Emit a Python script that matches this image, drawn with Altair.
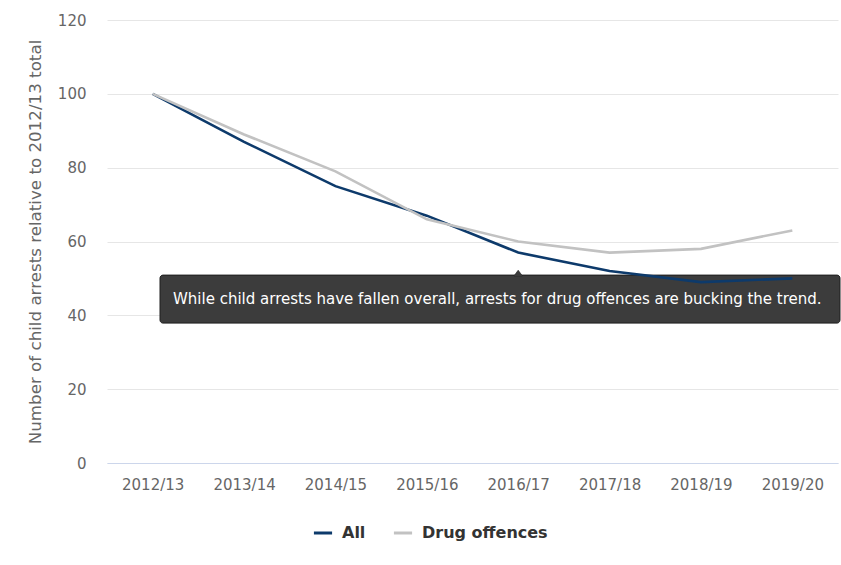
import altair as alt
import pandas as pd

years = ["2012/13", "2013/14", "2014/15", "2015/16", "2016/17", "2017/18", "2018/19", "2019/20"]
all_vals = [100, 87, 75, 67, 57, 52, 49, 50]
drug_vals = [100, 89, 79, 66, 60, 57, 58, 63]
series_names = ["All", "Drug offences"]
series_colors = ["#0d3a6b", "#c2c2c2"]
note_text = "While child arrests have fallen overall, arrests for drug offences are bucking the trend."
y_title = "Number of child arrests relative to 2012/13 total"

rows = []
for y, a, d in zip(years, all_vals, drug_vals):
    rows.append({"year": y, "series": "All", "value": a})
    rows.append({"year": y, "series": "Drug offences", "value": d})
df = pd.DataFrame(rows)

FONT = "DejaVu Sans"
xscale = alt.Scale(type="point", padding=0.5)
yscale = alt.Scale(domain=[0, 120], nice=False, zero=True)

x_enc = alt.X("year:N", sort=years, scale=xscale, title=None)
y_enc = alt.Y("value:Q", scale=yscale, title=y_title,
              axis=alt.Axis(values=[0, 20, 40, 60, 80, 100, 120]))

lines = alt.Chart(df).mark_line(strokeWidth=2.6).encode(
    x=x_enc,
    y=y_enc,
    color=alt.Color(
        "series:N",
        scale=alt.Scale(domain=series_names, range=series_colors),
        legend=alt.Legend(
            title=None, orient="none", direction="horizontal",
            legendX=205, legendY=502, symbolType="stroke", symbolStrokeWidth=3,
            symbolSize=330, labelFontSize=16, labelFontWeight="bold",
            labelColor="#333333", labelFont=FONT, columnPadding=21,
            labelOffset=8, padding=0,
        ),
    ),
)

note_df = pd.DataFrame({"top": [50.9], "bottom": [37.9], "mid": [44.3], "year": ["2016/17"], "text": [note_text]})

box = alt.Chart(note_df).mark_rect(
    fill="#3c3c3c", stroke="#1e1e1e", strokeWidth=1, cornerRadius=3
).encode(
    x=alt.value(53), x2=alt.value(733),
    y=alt.Y("top:Q", scale=yscale, title=y_title),
    y2="bottom:Q",
)

pointer = alt.Chart(note_df).mark_point(
    shape="M-1,0.2L0,-1.15L1,0.2Z", filled=True, fill="#3c3c3c", stroke="#1e1e1e",
    strokeWidth=0.6, opacity=1, size=72,
).encode(
    x=alt.X("year:N", sort=years, scale=xscale, title=None),
    y=alt.Y("top:Q", scale=yscale, title=y_title),
)

pointer_cover = alt.Chart(note_df).mark_point(
    shape="M-1,0.25L0,-1.0L1,0.25Z", filled=True, fill="#3c3c3c", strokeWidth=0,
    opacity=1, size=64,
).encode(
    x=alt.X("year:N", sort=years, scale=xscale, title=None),
    y=alt.Y("top:Q", scale=yscale, title=y_title),
)

label = alt.Chart(note_df).mark_text(
    align="left", baseline="middle", color="#ffffff", fontSize=15, font=FONT,
).encode(
    x=alt.value(66),
    y=alt.Y("mid:Q", scale=yscale, title=y_title),
    text="text:N",
)

chart = alt.layer(box, pointer, pointer_cover, label, lines).properties(
    width=731, height=443,
    autosize=alt.AutoSizeParams(type="none"),
    padding={"left": 107, "top": 20, "right": 3, "bottom": 102},
    background="#ffffff",
).configure_view(
    stroke=None
).configure_axisX(
    labelAngle=0, labelAlign="center", labelBaseline="top",
    ticks=False, grid=False, domainColor="#ccd6eb", domainWidth=1,
    labelPadding=14, labelFontSize=15, labelColor="#666666", labelFont=FONT,
).configure_axisY(
    domain=False, ticks=False, gridColor="#e6e6e6", gridWidth=1,
    labelPadding=21, labelFontSize=15, labelColor="#666666", labelFont=FONT,
    titleFontSize=16.7, titleColor="#666666", titleFont=FONT, titleFontWeight="normal",
    titlePadding=13,
)

chart.save("out.html", embed_options={"renderer": "svg", "actions": False})
